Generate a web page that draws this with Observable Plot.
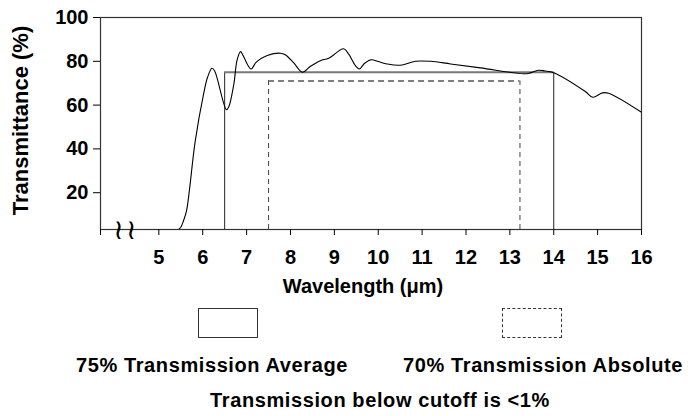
<!DOCTYPE html>
<html>
<head>
<meta charset="utf-8">
<script src="https://cdn.jsdelivr.net/npm/d3@7"></script>
<script src="https://cdn.jsdelivr.net/npm/@observablehq/plot@0.6"></script>
<style>
  html, body { margin: 0; padding: 0; background: #fff; }
  body { width: 688px; height: 416px; overflow: hidden; font-family: "Liberation Sans", Arial, sans-serif; font-weight: bold; color: #000; }
  #legend { position: relative; width: 688px; height: 116px; }
  .box { position: absolute; width: 60px; height: 30px; box-sizing: border-box; }
  .solid { border: 1.5px solid #333; }
  .dashed { border: 1px dashed #333; }
  .lbl { position: absolute; width: 340px; text-align: center; font-size: 20px; line-height: 20px; letter-spacing: 0.6px; white-space: nowrap; }
</style>
</head>
<body>
<div id="chart"></div>
<div id="legend">
  <div class="box solid" style="left:198px;top:8px"></div>
  <div class="box dashed" style="left:502px;top:8px"></div>
  <div class="lbl" id="l1" style="left:42px;top:55px"></div>
  <div class="lbl" id="l2" style="left:373px;top:55px"></div>
  <div class="lbl" id="l3" style="left:210px;top:90px"></div>
</div>
<script>
// ---- data ----
const wavelength = [5.45, 5.5, 5.56, 5.63, 5.83, 6.02, 6.11, 6.21, 6.27, 6.54, 6.59, 6.71, 6.78, 6.86, 6.92, 7.1, 7.22, 7.47, 7.77, 7.88, 8.07, 8.27, 8.45, 8.68, 8.87, 9.21, 9.32, 9.48, 9.57, 9.69, 9.84, 10.0, 10.2, 10.5, 10.85, 11.19, 11.65, 12.33, 13.31, 13.45, 13.65, 13.8, 14.0, 14.72, 14.89, 15.11, 15.25, 16.0];
const transmittance = [3.2, 4.2, 7.1, 11.7, 43.7, 65.1, 72.7, 76.8, 75.7, 57.9, 59, 69.7, 80.3, 84.4, 82.6, 76.5, 79.6, 82.6, 83.7, 83, 79.4, 75, 77.6, 80.3, 81.4, 85.7, 83.5, 78, 76.5, 79.1, 80.7, 79.9, 78.8, 78.2, 80, 80, 78.8, 77, 74.3, 74.6, 75.9, 75.6, 74.8, 66.2, 63.6, 65.6, 65.4, 56.7];

const xDomain = [3.67, 16];
const yDomain = [3.2, 100];
const xTicks = [5, 6, 7, 8, 9, 10, 11, 12, 13, 14, 15, 16];
const yTicks = [20, 40, 60, 80, 100];
const axisBreaks = [4.08, 4.37];

const avgEdges = [6.5, 14.0];   // 75% Transmission Average band
const avgLevel = 75;
const absEdges = [7.5, 13.23];  // 70% Transmission Absolute band
const absLevel = 71;

const legendLabels = ["75% Transmission Average", "70% Transmission Absolute"];
const note = "Transmission below cutoff is <1%";
const xLabel = "Wavelength (\u03bcm)";
const yLabel = "Transmittance (%)";

// ---- chart ----
const curve = wavelength.map((w, i) => ({w, t: transmittance[i]}));

const plot = Plot.plot({
  width: 688,
  height: 300,
  marginLeft: 100,
  marginRight: 47,
  marginTop: 17,
  marginBottom: 71,
  x: {domain: xDomain},
  y: {domain: yDomain},
  style: {
    fontFamily: "'Liberation Sans', Arial, sans-serif",
    fontWeight: "bold",
    fontSize: "20px",
    color: "#000",
    background: "#fff",
    overflow: "visible"
  },
  marks: [
    // solid average band
    Plot.ruleX(avgEdges, {y1: yDomain[0], y2: avgLevel, stroke: "#222", strokeWidth: 1}),
    Plot.ruleY([avgLevel], {x1: avgEdges[0], x2: avgEdges[1], stroke: "#777", strokeWidth: 2}),
    // dashed absolute band
    Plot.ruleX(absEdges, {y1: yDomain[0], y2: absLevel, stroke: "#444", strokeWidth: 1, strokeDasharray: "5,4"}),
    Plot.ruleY([absLevel], {x1: absEdges[0], x2: absEdges[1], stroke: "#555", strokeWidth: 1.3, strokeDasharray: "6,4"}),
    // transmission curve
    Plot.line(curve, {x: "w", y: "t", curve: "catmull-rom", stroke: "#000", strokeWidth: 1.1}),
    Plot.frame({stroke: "#333", strokeWidth: 1.2}),
    // axes
    Plot.axisX(xTicks, {anchor: "bottom", tickSize: 6, tickPadding: 14, label: null, fontSize: 20, letterSpacing: "1px"}),
    Plot.axisX([xDomain[0]], {anchor: "bottom", tickSize: 6, tickFormat: () => "", label: null}),
    Plot.axisY(yTicks, {anchor: "left", tickSize: 7, tickPadding: 5, label: null, fontSize: 20, letterSpacing: "1px"}),
    // axis break marks
    Plot.text(axisBreaks, {x: d => d, frameAnchor: "bottom", text: () => "\u2240", fontSize: 28, fontWeight: "normal", fontFamily: "DejaVu Sans", textAnchor: "middle", lineAnchor: "middle", dy: 1}),
    // axis titles
    Plot.text([xLabel], {frameAnchor: "bottom", textAnchor: "middle", lineAnchor: "middle", dy: 57, dx: -8, fontSize: 20, letterSpacing: "0.6px"}),
    Plot.text([yLabel], {frameAnchor: "left", textAnchor: "middle", lineAnchor: "middle", rotate: -90, dx: -80, dy: -3, fontSize: 22, letterSpacing: "0.6px"})
  ]
});
document.getElementById("chart").appendChild(plot);

document.getElementById("l1").textContent = legendLabels[0];
document.getElementById("l2").textContent = legendLabels[1];
document.getElementById("l3").textContent = note;
</script>
</body>
</html>
